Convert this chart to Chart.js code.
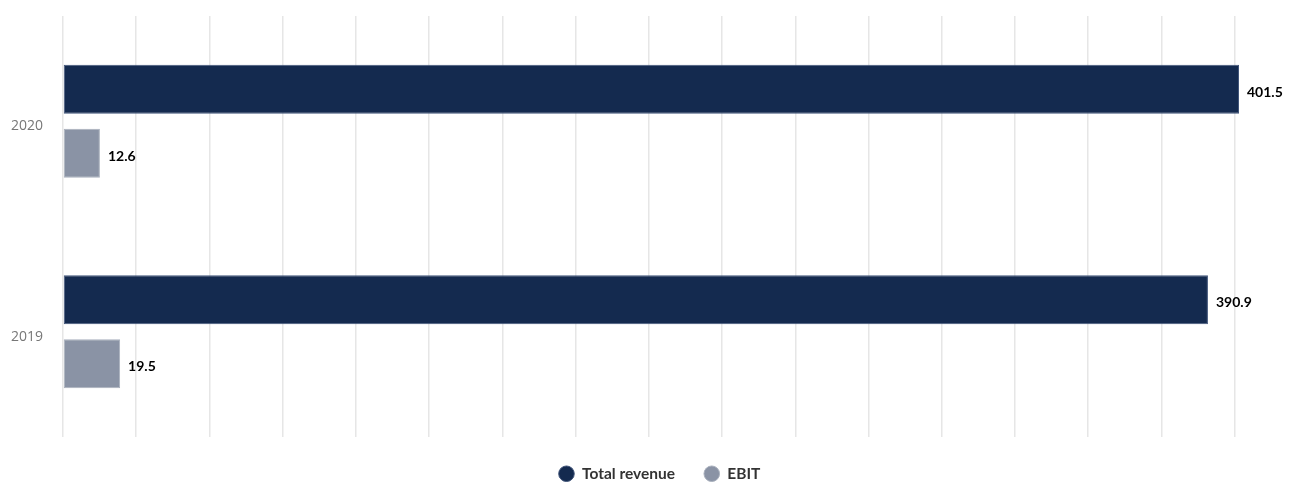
<!DOCTYPE html>
<html>
<head>
<meta charset="utf-8">
<script src="https://cdn.jsdelivr.net/npm/chart.js@4"></script>
<style>
  html, body { margin: 0; padding: 0; background: #fff; }
  #wrap { width: 1300px; height: 482px; position: relative; }
</style>
</head>
<body>
<div id="wrap"><canvas id="c" width="1300" height="482"></canvas></div>
<script>
const categories = ["2020", "2019"];
const seriesNames = ["Total revenue", "EBIT"];
const totalRevenue = [401.5, 390.9];
const ebit = [12.6, 19.5];
const axisMax = 401.5;
const tickStep = 25;

const valueLabels = {
  id: 'valueLabels',
  afterDatasetsDraw(chart) {
    const ctx = chart.ctx;
    ctx.save();
    ctx.font = 'bold 14px Lato, "Open Sans", sans-serif';
    ctx.fillStyle = '#000';
    ctx.textAlign = 'left';
    ctx.textBaseline = 'middle';
    chart.data.datasets.forEach((ds, i) => {
      const meta = chart.getDatasetMeta(i);
      if (meta.hidden) return;
      meta.data.forEach((bar, j) => {
        ctx.fillText(ds.data[j].toFixed(1), bar.x + 8, bar.y + 3);
      });
    });
    ctx.restore();
  }
};

const legendFit = {
  id: 'legendFit',
  afterInit(chart) {
    const lg = chart.legend;
    if (!lg) return;
    const orig = lg.fit.bind(lg);
    lg.fit = function () {
      orig();
      this.height = 45;
      if (this.lineWidths && this.lineWidths.length) this.lineWidths[0] -= 80;
    };
  }
};

new Chart(document.getElementById('c'), {
  type: 'bar',
  data: {
    labels: categories,
    datasets: [
      { label: seriesNames[0], data: totalRevenue, backgroundColor: '#142a4f', borderColor: '#41557a', borderWidth: 1, borderSkipped: false },
      { label: seriesNames[1], data: ebit, backgroundColor: '#8a93a5', borderColor: '#a9b0bd', borderWidth: 1, borderSkipped: false }
    ]
  },
  options: {
    indexAxis: 'y',
    responsive: false,
    animation: false,
    devicePixelRatio: 1,
    layout: { padding: { left: 0, right: 61, top: 16, bottom: 0 } },
    datasets: { bar: { categoryPercentage: 0.607, barPercentage: 0.766 } },
    scales: {
      x: {
        min: 0, max: axisMax,
        ticks: { display: false, stepSize: tickStep, includeBounds: false },
        grid: { color: '#e6e6e6', lineWidth: 1.5, drawTicks: false },
        border: { display: false }
      },
      y: {
        grid: { display: false, drawTicks: false },
        border: { display: false },
        ticks: { color: '#777', font: { family: '"Open Sans", sans-serif', size: 14 }, padding: 20, labelOffset: 5 },
        afterFit(scale) { scale.width = 63; scale.paddingTop = 0; scale.paddingBottom = 0; }
      }
    },
    plugins: {
      legend: {
        position: 'bottom',
        labels: {
          usePointStyle: true, pointStyle: 'circle', boxWidth: 16, boxHeight: 11,
          color: '#333', padding: 29,
          font: { family: 'Lato, "Open Sans", sans-serif', size: 15.5, weight: 'bold' }
        }
      },
      tooltip: { enabled: false }
    }
  },
  plugins: [valueLabels, legendFit]
});
</script>
</body>
</html>
